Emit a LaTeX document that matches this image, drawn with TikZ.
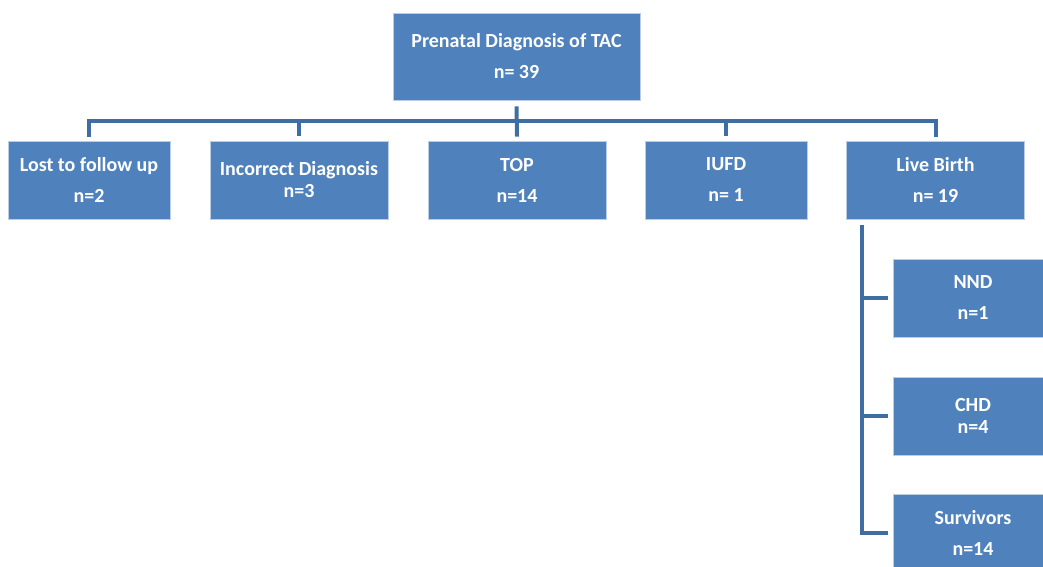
\documentclass[tikz,border=0pt]{standalone}
\usepackage{fontspec}
\setmainfont{Carlito}
\usetikzlibrary{positioning,calc}
\definecolor{boxblue}{HTML}{4F81BD}
\definecolor{lineblue}{HTML}{3F6EA3}
\tikzset{
  box/.style={draw=boxblue!40!white,line width=0.8pt,fill=boxblue,text=white,align=center,
              font=\bfseries\fontsize{20}{24}\selectfont,inner sep=2pt,minimum height=78pt},
  sbox/.style={box,minimum width=162pt},
  wbox/.style={box,minimum width=178pt},
  rbox/.style={box,minimum width=160pt},
  conn/.style={draw=lineblue,line width=4pt}
}

\begin{document}
\begin{tikzpicture}[x=1pt,y=-1pt]
\useasboundingbox (0,0) rectangle (1043,566);
\clip (0,0) rectangle (1043,566);

\node[box, minimum width=247pt, minimum height=87pt] (diag) at (516.5,56.5)
   {Prenatal Diagnosis of TAC\\[7pt]n= 39};

% second row
\node[sbox] (lost) at (89,180) {Lost to follow up\\[7pt]n=2};
\node[wbox] (incorrect) at (299,180) {Incorrect Diagnosis\\[-2pt]n=3};
\node[wbox] (top) at (517,180) {TOP\\[7pt]n=14};
\node[sbox] (iufd) at (726,180) {IUFD\\[7pt]n= 1};
\node[wbox] (live) at (935.5,180) {Live Birth\\[7pt]n= 19};

% outcomes of live birth
\node[rbox] (nnd) at (973,298) {NND\\[7pt]n=1};
\node[rbox] (chd) at (973,416) {CHD\\[-2pt]n=4};
\node[rbox] (surv) at (973,533) {Survivors\\[7pt]n=14};

\coordinate (bus) at (517,121);
\coordinate (spine) at ([xshift=16pt,yshift=-6pt]live.south west);

\draw[conn] ([yshift=-6pt]diag.south) -- ([yshift=4pt]top.north);
\draw[conn] ([yshift=4pt]lost.north) |- (bus) -| ([yshift=4pt]live.north);
\foreach \n in {incorrect,iufd}
  \draw[conn] ([yshift=5pt]\n.north) -- (\n.north |- bus);

\draw[conn] (spine) |- ([xshift=-5pt]surv.west);
\foreach \n in {nnd,chd}
  \draw[conn] (spine |- \n.west) -- ([xshift=-5pt]\n.west);
\end{tikzpicture}
\end{document}
